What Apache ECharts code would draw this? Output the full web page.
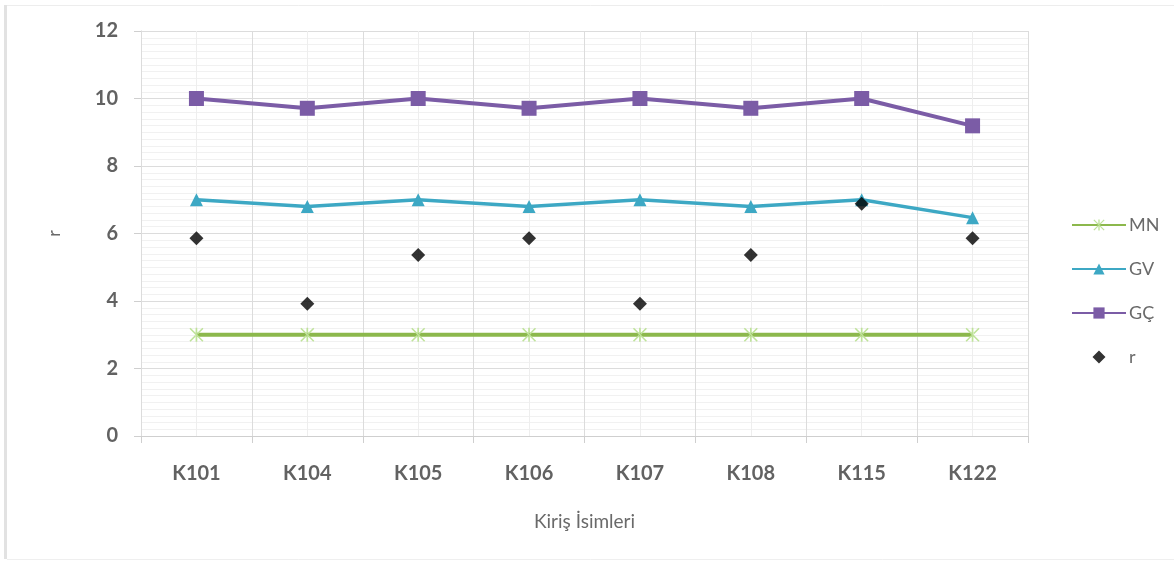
<!DOCTYPE html>
<html>
<head>
<meta charset="utf-8">
<script src="https://cdn.jsdelivr.net/npm/echarts@6/dist/echarts.min.js"></script>
<style>
  html, body { margin: 0; padding: 0; background: #fff; }
  #chart { width: 1174px; height: 561px; }
</style>
</head>
<body>
<div id="chart"></div>
<script>
// Beam names along the x axis
const categories = ['K101', 'K104', 'K105', 'K106', 'K107', 'K108', 'K115', 'K122'];
// Series values
const mnValues = [3, 3, 3, 3, 3, 3, 3, 3];
const gvValues = [7.0, 6.8, 7.0, 6.8, 7.0, 6.8, 7.0, 6.47];
const gcValues = [10.0, 9.71, 10.0, 9.71, 10.0, 9.71, 10.0, 9.19];
const rValues = [5.86, 3.92, 5.36, 5.86, 3.92, 5.36, 6.88, 5.86];
// Y axis range
const yMin = 0, yMax = 12, yStep = 2;

const labelColor = '#626262';
const font = 'Lato, "DejaVu Sans", sans-serif';

// Asterisk marker built from three thin bars
const starPath = 'path://M4.4,0 L5.6,0 L5.6,10 L4.4,10 Z M0,0.8 L0.8,0 L10,9.2 L9.2,10 Z M10,0.8 L9.2,0 L0,9.2 L0.8,10 Z';
// Diamond legend icon padded to the full icon width
const diamondIcon = 'path://M0,7 L0.01,7 Z M20.5,7 L27,0.5 L33.5,7 L27,13.5 Z M54,7 L54.01,7 Z';

const chart = echarts.init(document.getElementById('chart'), null, { renderer: 'canvas' });

chart.setOption({
  backgroundColor: '#ffffff',
  animation: false,
  grid: { left: 141, right: 146, top: 31, bottom: 125 },
  graphic: [
    { type: 'rect', shape: { x: 4, y: 5, width: 3, height: 554 }, style: { fill: '#e2e2e2' }, silent: true },
    { type: 'line', shape: { x1: 7, y1: 5.5, x2: 1174, y2: 5.5 }, style: { stroke: '#ededed', lineWidth: 1 }, silent: true },
    { type: 'line', shape: { x1: 7, y1: 559.5, x2: 1174, y2: 559.5 }, style: { stroke: '#efefef', lineWidth: 1 }, silent: true }
  ],
  legend: {
    orient: 'vertical',
    left: 1066,
    top: 211,
    itemWidth: 54,
    itemHeight: 14,
    itemGap: 26,
    textStyle: { fontFamily: font, fontSize: 18, color: '#6a6a6a', padding: [0, 0, 0, -2] },
    data: [
      { name: 'MN' },
      { name: 'GV' },
      { name: 'GÇ' },
      { name: 'r', icon: diamondIcon, itemStyle: { color: '#000' } }
    ]
  },
  xAxis: [
    {
      type: 'category',
      data: categories,
      boundaryGap: true,
      name: 'Kiriş İsimleri',
      nameLocation: 'middle',
      nameGap: 76,
      nameTextStyle: { fontFamily: font, fontSize: 19, color: '#6a6a6a' },
      axisLine: { lineStyle: { color: '#cfcfcf', width: 1 } },
      axisTick: { show: true, length: 7, lineStyle: { color: '#cfcfcf' } },
      axisLabel: { fontFamily: font, fontSize: 20, fontWeight: 'bold', color: labelColor, margin: 28 },
      splitLine: { show: true, lineStyle: { color: '#dcdcdc', width: 1 } },
      z: 3
    },
    {
      // half-category guide lines through each point
      type: 'value',
      min: 0,
      max: categories.length * 2,
      interval: 1,
      show: true,
      position: 'bottom',
      axisLine: { show: false },
      axisTick: { show: false },
      axisLabel: { show: false },
      splitLine: { show: true, lineStyle: { color: '#eeeeee', width: 1 } },
      z: 1
    }
  ],
  yAxis: {
    type: 'value',
    min: yMin,
    max: yMax,
    interval: yStep,
    name: 'r',
    nameLocation: 'middle',
    nameGap: 78,
    nameRotate: 90,
    nameTextStyle: { fontFamily: font, fontSize: 18, color: '#6a6a6a' },
    axisLine: { show: true, lineStyle: { color: '#cfcfcf', width: 1 } },
    axisTick: { show: true, length: 7, lineStyle: { color: '#cfcfcf' } },
    axisLabel: { fontFamily: font, fontSize: 20, fontWeight: 'bold', color: labelColor, margin: 23 },
    splitLine: { show: true, lineStyle: { color: '#dcdcdc', width: 1 } },
    minorTick: { show: false, splitNumber: 10 },
    minorSplitLine: { show: true, lineStyle: { color: '#f1f1f1', width: 1 } }
  },
  series: [
    {
      name: 'MN',
      type: 'line',
      data: mnValues,
      symbol: starPath,
      symbolSize: 14,
      showAllSymbol: true,
      lineStyle: { color: '#8cb84c', width: 4 },
      itemStyle: { color: '#bfe39a' },
      z: 3
    },
    {
      name: 'GV',
      type: 'line',
      data: gvValues,
      symbol: 'triangle',
      symbolSize: 13,
      lineStyle: { color: '#3da8c4', width: 3.5 },
      itemStyle: { color: '#3da8c4' },
      z: 4
    },
    {
      name: 'GÇ',
      type: 'line',
      data: gcValues,
      symbol: 'rect',
      symbolSize: 15,
      lineStyle: { color: '#7b5ca6', width: 4 },
      itemStyle: { color: '#7b5ca6' },
      z: 4
    },
    {
      name: 'r',
      type: 'scatter',
      data: rValues,
      symbol: 'diamond',
      symbolSize: 14,
      itemStyle: { color: '#000000' },
      z: 5
    }
  ]
});
</script>
</body>
</html>
